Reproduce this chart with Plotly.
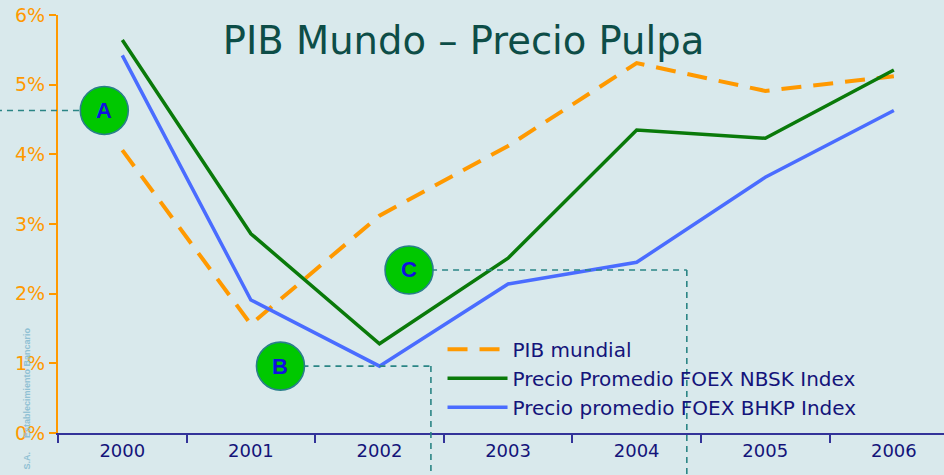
import plotly.graph_objects as go

# data (% growth / % change)
years = ["2000", "2001", "2002", "2003", "2004", "2005", "2006"]
pib_mundial = [4.06, 1.56, 3.12, 4.12, 5.31, 4.91, 5.12]
nbsk = [5.64, 2.86, 1.28, 2.51, 4.35, 4.23, 5.21]
bhkp = [5.42, 1.91, 0.96, 2.14, 2.45, 3.67, 4.63]
y_ticks = [0, 1, 2, 3, 4, 5, 6]
y_tick_labels = ["0%", "1%", "2%", "3%", "4%", "5%", "6%"]

# callout markers: label, x (category index), y (%)
callouts = [("A", -0.14, 4.63), ("B", 1.23, 0.96), ("C", 2.23, 2.34)]

ORANGE = "#ff9900"
GREEN = "#0a7a0a"
BLUE = "#4a6cff"
NAVY = "#14147a"
TEAL = "#2a8585"
BG = "#d9e9ec"

fig = go.Figure()
fig.add_trace(go.Scatter(x=years, y=pib_mundial, mode="lines", name="PIB mundial",
                         line=dict(color=ORANGE, width=4, dash="20px,12px")))
fig.add_trace(go.Scatter(x=years, y=nbsk, mode="lines", name="Precio Promedio FOEX NBSK Index",
                         line=dict(color=GREEN, width=3.5)))
fig.add_trace(go.Scatter(x=years, y=bhkp, mode="lines", name="Precio promedio FOEX BHKP Index",
                         line=dict(color=BLUE, width=3.5)))

dash_line = dict(color=TEAL, width=1.6, dash="6px,5px")
shapes = [
    # A: horizontal guide off to the left edge
    dict(type="line", xref="paper", yref="y", x0=-0.07, x1=0.05, y0=4.63, y1=4.63, line=dash_line),
    # B: horizontal then down
    dict(type="line", xref="x", yref="y", x0=1.23, x1=2.40, y0=0.96, y1=0.96, line=dash_line),
    dict(type="line", xref="x", yref="paper", x0=2.40, x1=2.40, y0=0.96 / 6, y1=-0.11, line=dash_line),
    # C: horizontal then down
    dict(type="line", xref="x", yref="y", x0=2.23, x1=4.39, y0=2.34, y1=2.34, line=dash_line),
    dict(type="line", xref="x", yref="paper", x0=4.39, x1=4.39, y0=2.34 / 6, y1=-0.11, line=dash_line),
]
annotations = []
for label, cx, cy in callouts:
    shapes.append(dict(type="circle", xref="x", yref="y", xsizemode="pixel", ysizemode="pixel",
                       xanchor=cx, yanchor=cy, x0=-24, x1=24, y0=-24, y1=24,
                       fillcolor="#00c800", line=dict(color="#2a7f8a", width=1.6)))
    annotations.append(dict(x=cx, y=cy, xref="x", yref="y", text="<b>%s</b>" % label, showarrow=False,
                            font=dict(family="Liberation Sans, Arial", size=22, color="#1010e0")))

# faint watermark on the left
wm_font = dict(family="Liberation Sans, Arial", size=9, color="#8fc0d3")
annotations.append(dict(xref="paper", yref="paper", x=-0.035, y=0.122, text="<b>Establecimiento Bancario</b>",
                        showarrow=False, textangle=-90, xanchor="center", yanchor="middle", font=wm_font))
annotations.append(dict(xref="paper", yref="paper", x=-0.035, y=-0.066, text="<b>S.A.</b>",
                        showarrow=False, textangle=-90, xanchor="center", yanchor="middle", font=wm_font))

fig.update_layout(
    width=944, height=475,
    margin=dict(l=58, r=0, t=15, b=42),
    paper_bgcolor=BG,
    plot_bgcolor="rgba(0,0,0,0)",
    title=dict(text="PIB Mundo – Precio Pulpa", x=0.491, xanchor="center", y=0.915, yanchor="middle",
               font=dict(family="DejaVu Sans", size=38.5, color="#0d4d47")),
    shapes=shapes,
    annotations=annotations,
    showlegend=True,
    legend=dict(x=0.434, y=0.247, xanchor="left", yanchor="top", bgcolor="rgba(0,0,0,0)",
                font=dict(family="DejaVu Sans", size=20, color=NAVY),
                itemwidth=60, tracegroupgap=0),
    xaxis=dict(type="category", range=[-0.5, 6.39], showgrid=False, zeroline=False,
               showline=True, linecolor="#333399", linewidth=2,
               ticks="outside", tickson="boundaries", ticklen=8, tickcolor="#333399", tickwidth=1.5,
               tickfont=dict(family="DejaVu Sans", size=18, color=NAVY)),
    yaxis=dict(range=[0, 6], tickmode="array", tickvals=y_ticks, ticktext=y_tick_labels,
               showgrid=False, zeroline=False,
               showline=True, linecolor=ORANGE, linewidth=2,
               ticks="outside", ticklen=7, tickcolor=ORANGE, tickwidth=2,
               tickfont=dict(family="DejaVu Sans", size=19, color=ORANGE)),
)

fig.write_html("out.html", config={"displayModeBar": False},
               post_script="document.body.style.margin='0';document.body.style.background='%s';" % BG)
